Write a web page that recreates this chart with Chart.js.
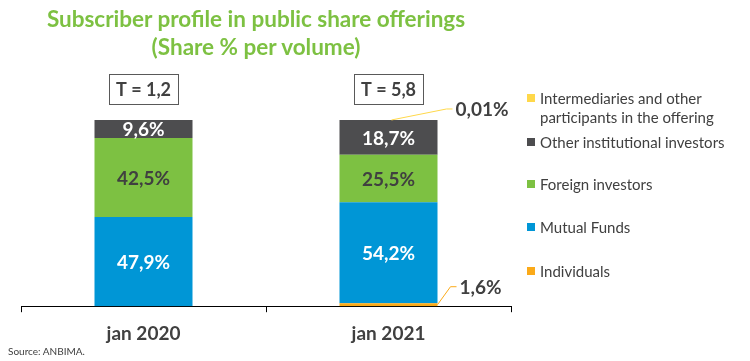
<!DOCTYPE html>
<html>
<head>
<meta charset="utf-8">
<script src="https://cdn.jsdelivr.net/npm/chart.js@4.4.1/dist/chart.umd.min.js"></script>
<style>
  body { margin: 0; background: #fff; font-family: Lato, "Open Sans", sans-serif; }
  #wrap { position: relative; width: 750px; height: 361px; overflow: hidden; }
  #chart { position: absolute; left: 0; top: 0; }
  #title {
    position: absolute; left: 0; top: 5px; width: 512px;
    text-align: center; color: #7dc142; font-weight: bold;
    font-size: 22.5px; line-height: 28px;
  }
  .legend-item { position: absolute; left: 527px; width: 215px; font-size: 15px; line-height: 19px; color: #404040; }
  .legend-item .sw { position: absolute; left: 0; top: 5px; width: 8px; height: 8px; }
  .legend-item .tx { margin-left: 13px; display: block; }
  #source { position: absolute; left: 8px; top: 345px; font-size: 10px; color: #404040; }
</style>
</head>
<body>
<div id="wrap">
  <canvas id="chart" width="750" height="361"></canvas>
  <div id="title">Subscriber profile in public share offerings<br>(Share % per volume)</div>
  <div id="legend"></div>
  <div id="source">Source: ANBIMA.</div>
</div>
<script>
// Share % per volume, bottom segment first
const categories = ['jan 2020', 'jan 2021'];
const individuals        = [0, 1.6];
const mutualFunds        = [47.9, 54.2];
const foreignInvestors   = [42.5, 25.5];
const otherInstitutional = [9.6, 18.7];
const intermediaries     = [0, 0.01];
// Total volume (T) above each bar
const totals = ['1,2', '5,8'];

const fmt = v => String(v).replace('.', ',') + '%';

const datasets = [
  { label: 'Individuals', data: individuals, backgroundColor: '#fbaa19', labelColor: '#fff',
    callout: { from: 'right', dx: 13, dy: -18 } },
  { label: 'Mutual Funds', data: mutualFunds, backgroundColor: '#0096d6', labelColor: '#fff' },
  { label: 'Foreign investors', data: foreignInvestors, backgroundColor: '#7dc142', labelColor: '#404040' },
  { label: 'Other institutional investors', data: otherInstitutional, backgroundColor: '#4d4d4f', labelColor: '#fff' },
  { label: 'Intermediaries and other participants in the offering', data: intermediaries,
    backgroundColor: '#ffd84a', labelColor: '#404040', callout: { from: 'top', dx: 55, dy: -11 } }
];

// Legend, top to bottom = reverse stacking order
const legendTops = [89, 133, 175, 218, 262];
const legendEl = document.getElementById('legend');
datasets.slice().reverse().forEach((ds, i) => {
  legendEl.insertAdjacentHTML('beforeend',
    `<div class="legend-item" style="top:${legendTops[i]}px">
       <span class="sw" style="background:${ds.backgroundColor}"></span>
       <span class="tx">${ds.label}</span>
     </div>`);
});

const LABEL_FONT = 'bold 19px Lato, "Open Sans", sans-serif';

const barLabels = {
  id: 'barLabels',
  afterDatasetsDraw(chart) {
    const ctx = chart.ctx;
    ctx.save();
    ctx.font = LABEL_FONT;
    ctx.textBaseline = 'middle';
    chart.data.datasets.forEach((ds, di) => {
      chart.getDatasetMeta(di).data.forEach((bar, i) => {
        const v = ds.data[i];
        if (!v) return;
        if (v >= 5) {
          ctx.textAlign = 'center';
          ctx.fillStyle = ds.labelColor;
          ctx.fillText(fmt(v), bar.x, (bar.y + bar.base) / 2 + 1);
          return;
        }
        // thin segment: leader line + label outside the bar
        const c = ds.callout;
        const half = bar.width / 2;
        const sx = c.from === 'top' ? bar.x + 3 : bar.x + half;
        const sy = c.from === 'top' ? bar.y : (bar.y + bar.base) / 2;
        const ex = sx + c.dx, ey = sy + c.dy;
        ctx.strokeStyle = ds.backgroundColor;
        ctx.lineWidth = 1;
        ctx.beginPath();
        ctx.moveTo(sx, sy);
        ctx.lineTo(ex, ey);
        ctx.lineTo(ex + 6, ey);
        ctx.stroke();
        ctx.textAlign = 'left';
        ctx.fillStyle = '#404040';
        ctx.fillText(fmt(v), ex + 9, ey + 1);
      });
    });

    // T = total boxes
    const top = chart.getDatasetMeta(chart.data.datasets.length - 1);
    ctx.font = 'bold 18px Lato, "Open Sans", sans-serif';
    ctx.textAlign = 'center';
    totals.forEach((t, i) => {
      const x = top.data[i].x;
      const text = 'T = ' + t;
      const w = ctx.measureText(text).width + 14;
      const y = 89;
      ctx.fillStyle = '#fff';
      ctx.fillRect(x - w / 2, y - 15, w, 30);
      ctx.strokeStyle = '#595959';
      ctx.strokeRect(Math.round(x - w / 2) + 0.5, y - 15 + 0.5, Math.round(w), 30);
      ctx.fillStyle = '#404040';
      ctx.fillText(text, x, y + 1);
    });
    ctx.restore();
  }
};

new Chart(document.getElementById('chart'), {
  type: 'bar',
  data: { labels: categories, datasets },
  options: {
    responsive: false,
    animation: false,
    layout: { padding: { left: 21, right: 239, top: 120, bottom: 6 } },
    plugins: { legend: { display: false }, tooltip: { enabled: false } },
    datasets: { bar: { categoryPercentage: 1, barPercentage: 0.4 } },
    scales: {
      x: {
        stacked: true,
        grid: { drawOnChartArea: false, color: '#000', tickLength: 6, offset: true },
        border: { color: '#000', width: 1 },
        ticks: { color: '#404040', padding: 10, maxRotation: 0,
                 font: { family: 'Lato', size: 19, weight: 'bold' } }
      },
      y: { stacked: true, display: false, min: 0, max: 100 }
    }
  },
  plugins: [barLabels]
});
</script>
</body>
</html>
